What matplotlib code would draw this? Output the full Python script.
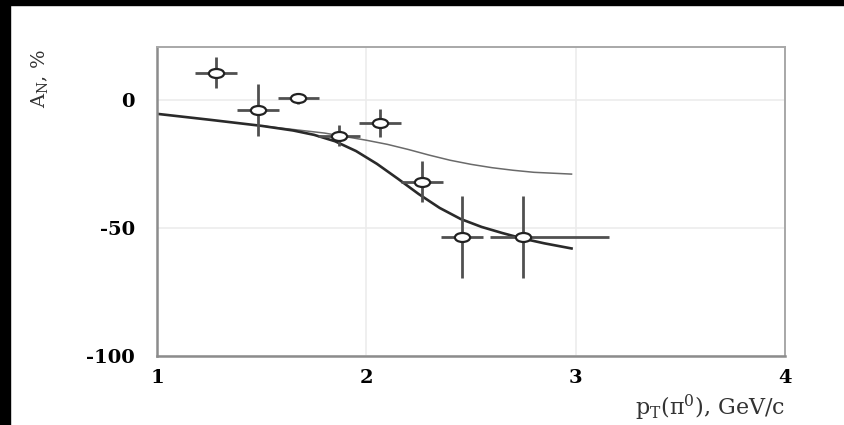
import matplotlib
matplotlib.use('Agg')
import matplotlib.pyplot as plt
from matplotlib.path import Path
from matplotlib.markers import MarkerStyle
from matplotlib.transforms import Affine2D
from matplotlib.patches import Rectangle

# measured asymmetry A_N (%) vs pT of the pi0
pt = [1.28, 1.48, 1.675, 1.87, 2.065, 2.265, 2.455, 2.75]
an = [10.5, -4.0, 0.5, -14.0, -9.0, -32.0, -53.5, -53.5]
an_err = [6.0, 10.0, 2.0, 4.0, 5.5, 8.0, 16.0, 16.0]
pt_err_lo = [0.10, 0.10, 0.10, 0.10, 0.10, 0.10, 0.10, 0.16]
pt_err_hi = [0.10, 0.10, 0.10, 0.10, 0.10, 0.10, 0.10, 0.41]

# model curves
fit_x = [1.0, 1.25, 1.5, 1.65, 1.75, 1.85, 1.95, 2.05, 2.15, 2.25, 2.35, 2.45, 2.55,
         2.65, 2.75, 2.85, 2.98]
fit_y = [-5.5, -7.8, -10.2, -12.0, -13.7, -16.2, -20.0, -25.0, -30.8, -36.8, -42.2, -46.5,
         -49.6, -52.0, -54.2, -56.0, -58.0]
alt_x = [1.5, 1.65, 1.8, 1.9, 2.0, 2.1, 2.2, 2.3, 2.4, 2.5, 2.6, 2.7, 2.8, 2.98]
alt_y = [-10.2, -11.6, -13.0, -14.4, -15.8, -17.4, -19.4, -21.6, -23.6, -25.2, -26.5, -27.5,
         -28.3, -29.0]

x_ticks = [1, 2, 3, 4]
y_ticks = [0, -50, -100]

plt.rcParams['mathtext.fontset'] = 'dejavuserif'

fig = plt.figure(figsize=(8.45, 4.25), dpi=100)
fig.patch.set_facecolor('white')
ax = fig.add_axes([0.186, 0.162, 0.743, 0.727])

ax.set_xlim(1, 4)
ax.set_ylim(-100, 20.5)
ax.grid(True, color='#ececec', linewidth=1.2)
ax.set_axisbelow(True)
for name, s in ax.spines.items():
    s.set_color('#8c8c8c' if name in ('left', 'bottom') else '#a8a8a8')
    s.set_linewidth(1.8 if name in ('left', 'bottom') else 1.4)

ax.plot(alt_x, alt_y, color='#6a6a6a', linewidth=1.1)
ax.plot(fit_x, fit_y, color='#2a2a2a', linewidth=1.9)

ell = MarkerStyle(Path.unit_circle().transformed(Affine2D().scale(1.7, 1.0)))
ax.errorbar(pt, an, yerr=an_err, xerr=[pt_err_lo, pt_err_hi], fmt='none',
            ecolor='#505050', elinewidth=2.0, capsize=0)
ax.plot(pt, an, linestyle='none', marker=ell, markersize=11,
        markerfacecolor='white', markeredgecolor='#222222', markeredgewidth=1.6)

ax.set_xticks(x_ticks)
ax.set_xticklabels([str(v) for v in x_ticks])
ax.set_yticks(y_ticks)
ax.set_yticklabels([str(v) for v in y_ticks])
ax.tick_params(length=0)
ax.tick_params(axis='x', pad=9)
ax.tick_params(axis='y', pad=16)
for lab in ax.get_xticklabels() + ax.get_yticklabels():
    lab.set_fontfamily('DejaVu Serif')
    lab.set_fontweight('bold')
    lab.set_fontsize(14)

fig.text(0.929, 0.04, r'$\mathrm{p_T(\pi^0)}$, GeV/c', ha='right', va='center',
         fontsize=16, family='DejaVu Serif', color='#333333')
fig.text(0.047, 0.815, r'$\mathrm{A_N}$, %', ha='center', va='center', rotation=90,
         fontsize=14, family='DejaVu Serif', color='#333333')

# black frame strips along the left and top edges
fig.patches.append(Rectangle((0, 0), 10 / 845, 1, transform=fig.transFigure,
                             color='black', zorder=10))
fig.patches.append(Rectangle((0, 1 - 5 / 425), 1, 5 / 425, transform=fig.transFigure,
                             color='black', zorder=10))

fig.savefig('out.png', dpi=100, facecolor='white')
